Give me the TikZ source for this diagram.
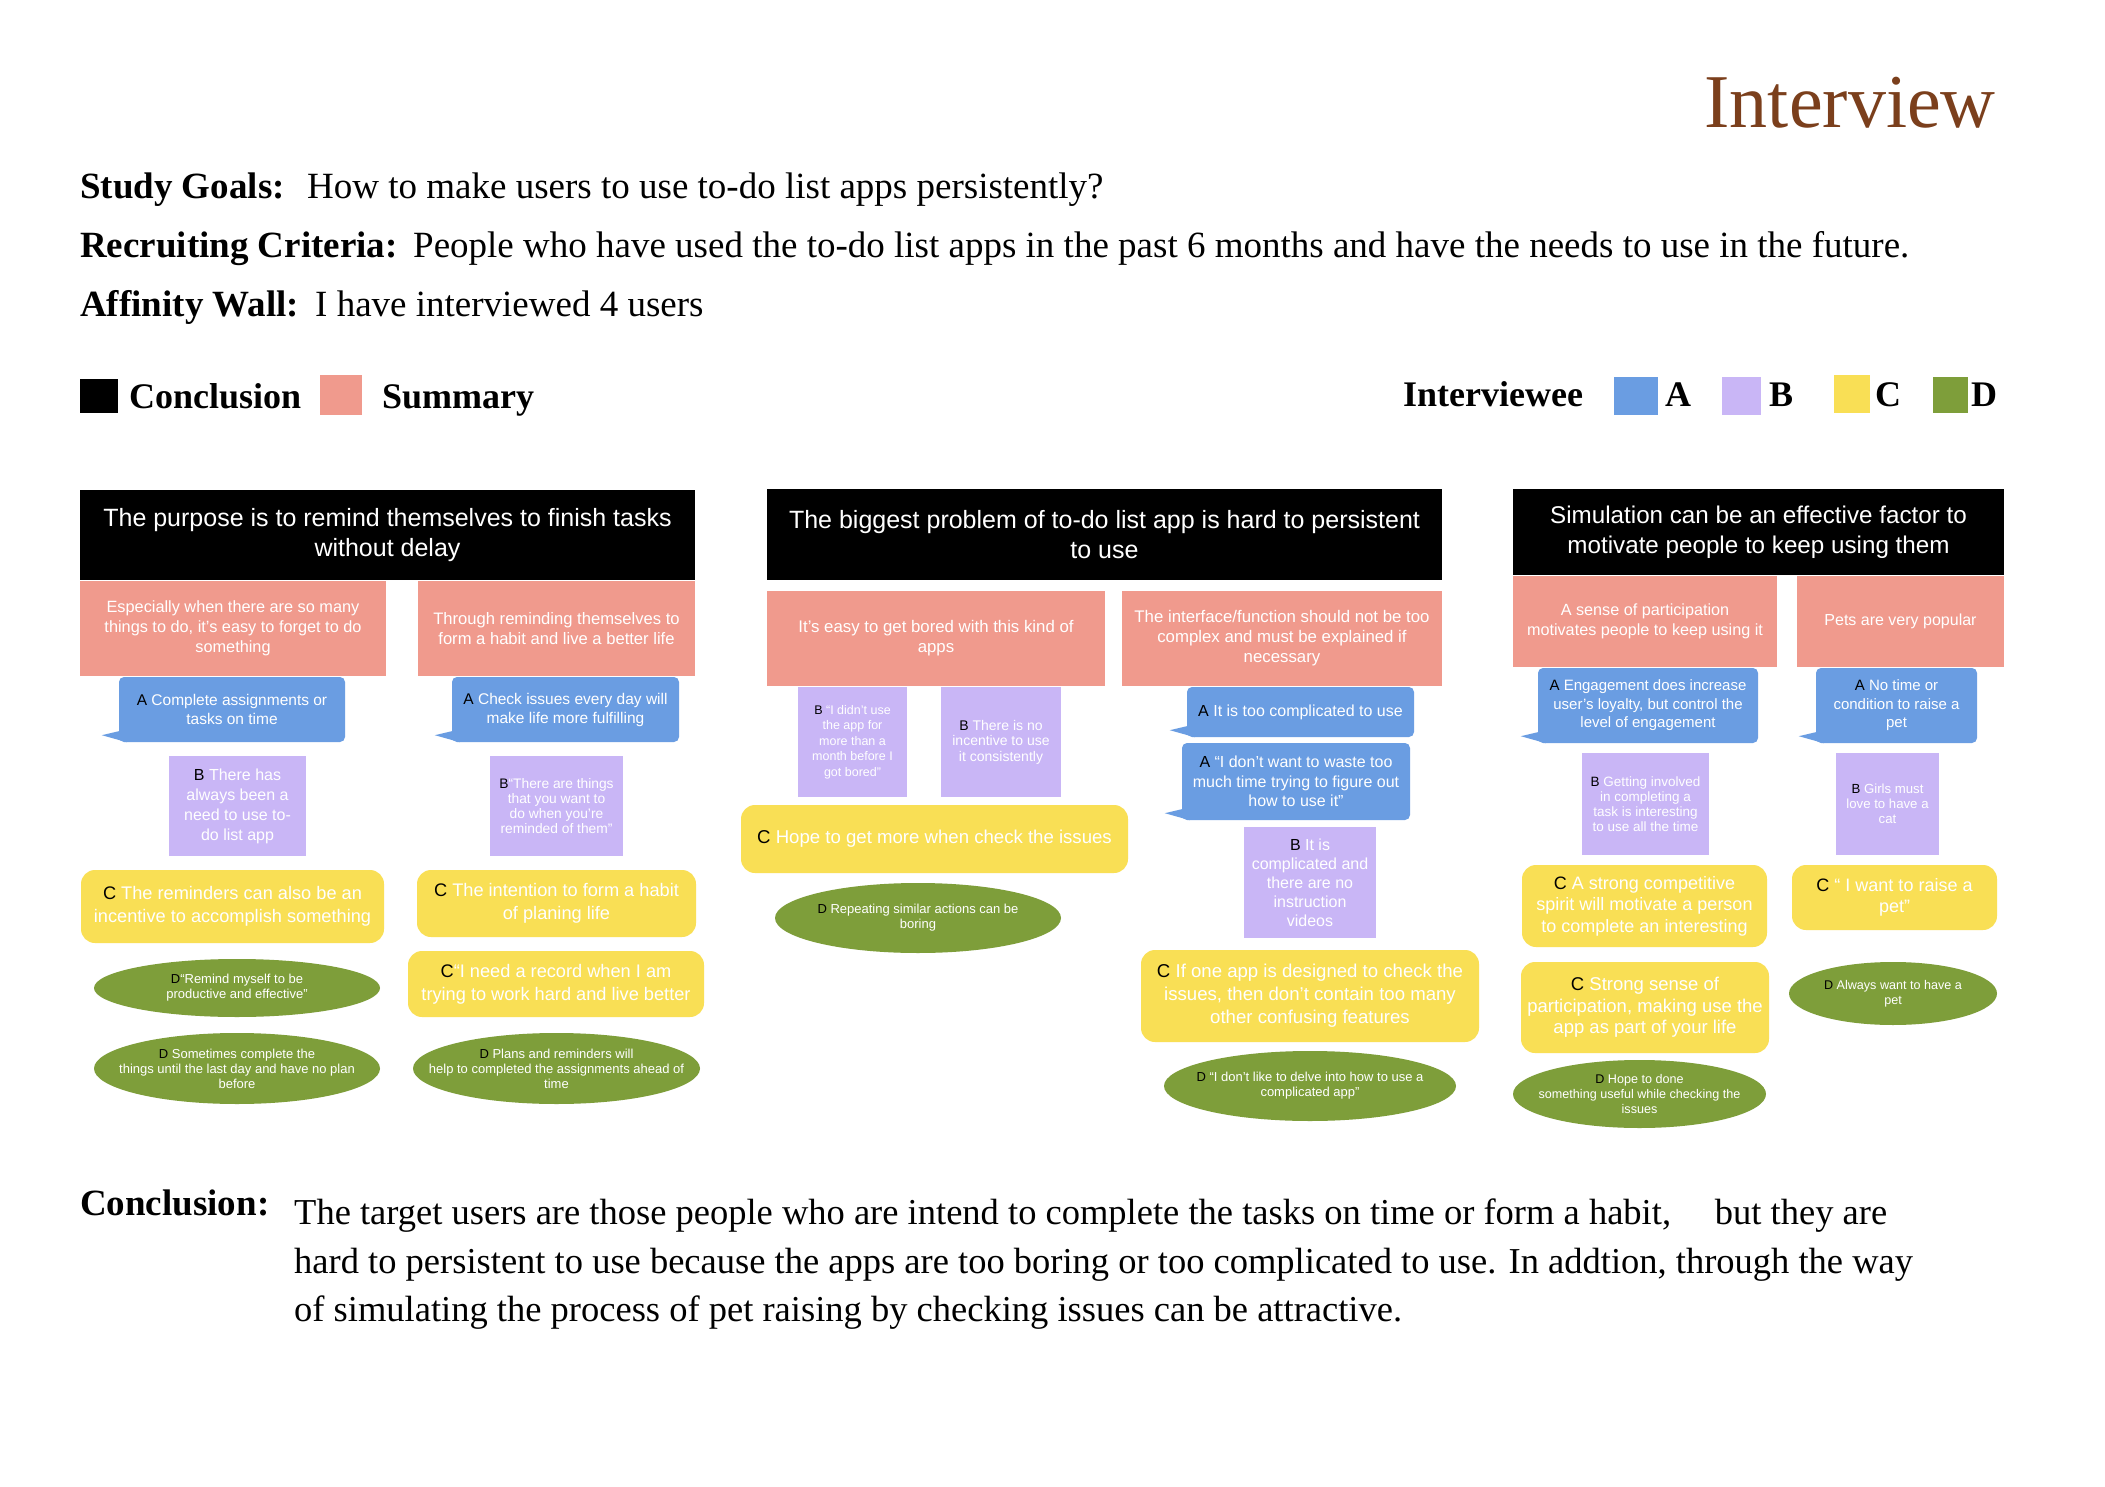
\documentclass[tikz,border=0pt]{standalone}
\usepackage{fontspec}
\setmainfont{Liberation Serif}
\setsansfont{Liberation Sans}
\usetikzlibrary{shapes.geometric}
\definecolor{ablue}{HTML}{6A9DE2}
\definecolor{blav}{HTML}{C9B6F6}
\definecolor{cyel}{HTML}{F9DF55}
\definecolor{dgrn}{HTML}{7E9E3A}
\definecolor{salm}{HTML}{F09A8D}
\definecolor{titlebrown}{HTML}{7B3F1C}
\newcommand\lbl[1]{\textcolor{black}{#1}}
\newcommand\card[6]{\node[#1, minimum width={(#5-#3)*1pt}, minimum height={(#6-#4)*1pt}] (#2) at ({(#3+#5)/2},{(#4+#6)/2})}
\newcommand\dcard[6]{\fill[dgrn] ({(#3+#5)/2},{(#4+#6)/2}) ellipse [x radius={(#5-#3)/2*1pt}, y radius={(#6-#4)/2*1pt}];
  \node[#1] (#2) at ({(#3+#5)/2},{(#4+#6)/2})}
\newcommand\tail[1]{\fill[ablue] ([yshift=11pt]#1.south west) -- ([xshift=-17pt,yshift=7pt]#1.south west) -- ([xshift=8pt]#1.south west) -- cycle;}
\tikzset{
  base/.style={inner sep=0pt, align=center, text=white},
  hdr/.style={base, fill=black},
  summ/.style={base, fill=salm},
  abox/.style={base, fill=ablue, rounded corners=5pt},
  bbox/.style={base, fill=blav},
  cbox/.style={base, fill=cyel, rounded corners=14pt},
  dbox/.style={base},
  fs/.style 2 args={font=\sffamily\fontsize{#1}{#2}\selectfont},
  toplbl/.style={anchor=base west, inner sep=0pt, font=\bfseries\fontsize{36}{40}\selectfont},
  toplblb/.style={anchor=base west, inner sep=0pt, font=\bfseries\fontsize{37}{40}\selectfont},
  toptxt/.style={anchor=base west, inner sep=0pt, font=\fontsize{37}{40}\selectfont},
  bottxt/.style={anchor=base west, inner sep=0pt, font=\fontsize{36.5}{40}\selectfont},
}
\begin{document}
\begin{tikzpicture}[x=1pt,y=-1pt]
\path[use as bounding box, fill=white] (0,0) rectangle (2105,1487);

% title and intro
\node[anchor=base east, inner sep=0pt, text=titlebrown, font=\fontsize{76}{80}\selectfont] (title) at (1996,128) {Interview};
\node[toplblb] (sgl) at (80,199) {Study Goals:};
\node[toptxt] (sgt) at (307,199) {How to make users to use to-do list apps persistently?};
\node[toplblb] (rcl) at (80,258) {Recruiting Criteria:};
\node[toptxt] (rct) at (413,258) {People who have used the to-do list apps in the past 6 months and have the needs to use in the future.};
\node[toplblb] (afl) at (80,317) {Affinity Wall:};
\node[toptxt] (aft) at (315,317) {I have interviewed 4 users};

% legend
\fill[black] (80,379) rectangle (118,413);
\node[toplbl] (lgc) at (129,409) {Conclusion};
\fill[salm] (320,375) rectangle (362,415);
\node[toplbl] (lgs) at (382,409) {Summary};
\node[toplbl] (lgi) at (1403,407) {Interviewee};
\fill[ablue] (1614,377) rectangle (1658,415);
\node[toplbl] (lga) at (1665,407) {A};
\fill[blav] (1722,377) rectangle (1761,415);
\node[toplbl] (lgb) at (1769,407) {B};
\fill[cyel] (1834,375) rectangle (1870,413);
\node[toplbl] (lgcc) at (1875,407) {C};
\fill[dgrn] (1933,377) rectangle (1968,413);
\node[toplbl] (lgd) at (1971,407) {D};

% ---------- column 1 ----------
\card{hdr,fs={25}{30}}{H1}{80}{490}{695}{580} {The purpose is to remind themselves to finish tasks\\without delay};
\card{summ,fs={16.3}{20}}{S1a}{80}{581}{386}{676} {Especially when there are so many\\things to do, it's easy to forget to do\\something};
\card{summ,fs={16.6}{20}}{S1b}{418}{581}{695}{676} {Through reminding themselves to\\form a habit and live a better life};
\card{abox,fs={15.5}{19}}{A1a}{119}{677}{345}{742} {\lbl{A} Complete assignments or\\tasks on time};
\tail{A1a}
\card{abox,fs={15.5}{19}}{A1b}{452}{677}{679}{742} {\lbl{A} Check issues every day will\\make life more fulfilling};
\tail{A1b}
\card{bbox,fs={16}{20}}{B1a}{169}{756}{306}{856} {\lbl{B} There has\\always been a\\need to use to-\\do list app};
\card{bbox,fs={13.8}{15.2}}{B1b}{490}{756}{623}{856} {\lbl{B}“There are things\\that you want to\\do when you're\\reminded of them”};
\card{cbox,fs={18.2}{23}}{C1a}{81}{870}{384}{943} {\lbl{C} The reminders can also be an\\incentive to accomplish something};
\card{cbox,fs={18.2}{23}}{C1b}{417}{870}{696}{937} {\lbl{C} The intention to form a habit\\of planing life};
\card{cbox,fs={18.2}{23}}{C1c}{408}{951}{704}{1017} {\lbl{C}“I need a record when I am\\trying to work hard and live better};
\dcard{dbox,fs={13}{15}}{D1a}{94}{959}{380}{1017} {\lbl{D}“Remind myself to be\\productive and effective”};
\dcard{dbox,fs={13}{15}}{D1b}{94}{1033}{380}{1104} {\lbl{D} Sometimes complete the\\things until the last day and have no plan\\before};
\dcard{dbox,fs={13}{15}}{D1c}{413}{1033}{700}{1104} {\lbl{D} Plans and reminders will\\help to completed the assignments ahead of\\time};

% ---------- column 2 ----------
\card{hdr,fs={25}{30}}{H2}{767}{489}{1442}{580} {The biggest problem of to-do list app is hard to persistent\\to use};
\card{summ,fs={16.8}{20}}{S2a}{767}{591}{1105}{686} {It's easy to get bored with this kind of\\apps};
\card{summ,fs={16.8}{20}}{S2b}{1122}{591}{1442}{686} {The interface/function should not be too\\complex and must be explained if\\necessary};
\card{bbox,fs={12.5}{15.4}}{B2a}{798}{687}{907}{797} {\lbl{B} “I didn't use\\the app for\\more than a\\month before I\\got bored”};
\card{bbox,fs={14}{15.5}}{B2b}{941}{687}{1061}{797} {\lbl{B} There is no\\incentive to use\\it consistently};
\card{cbox,fs={18.6}{23}}{C2a}{741}{805}{1128}{873} {\lbl{C} Hope to get more when check the issues};
\dcard{dbox,fs={13}{15}}{D2a}{775}{883}{1061}{953} {\lbl{D} Repeating similar actions can be\\boring};
\card{abox,fs={16}{19.5}}{A2a}{1187}{687}{1414}{737} {\lbl{A} It is too complicated to use};
\tail{A2a}
\card{abox,fs={16}{19.5}}{A2b}{1182}{743}{1410}{820} {\lbl{A} “I don't want to waste too\\much time trying to figure out\\how to use it”};
\tail{A2b}
\card{bbox,fs={16}{19}}{B2c}{1244}{827}{1376}{938} {\lbl{B} It is\\complicated and\\there are no\\instruction\\videos};
\card{cbox,fs={18.6}{23}}{C2b}{1141}{950}{1479}{1042} {\lbl{C} If one app is designed to check the\\issues, then don't contain too many\\other confusing features};
\dcard{dbox,fs={13}{15}}{D2b}{1164}{1051}{1456}{1121} {\lbl{D} “I don't like to delve into how to use a\\complicated app”};

% ---------- column 3 ----------
\card{hdr,fs={24.2}{30}}{H3}{1513}{489}{2004}{575} {Simulation can be an effective factor to\\motivate people to keep using them};
\card{summ,fs={16.2}{19.5}}{S3a}{1513}{576}{1777}{667} {A sense of participation\\motivates people to keep using it};
\card{summ,fs={16}{19.5}}{S3b}{1797}{576}{2004}{667} {Pets are very popular};
\card{abox,fs={15}{18.5}}{A3a}{1538}{668}{1758}{743} {\lbl{A} Engagement does increase\\user’s loyalty, but control the\\level of engagement};
\tail{A3a}
\card{abox,fs={15}{18.5}}{A3b}{1816}{668}{1977}{743} {\lbl{A} No time or\\condition to raise a\\pet};
\tail{A3b}
\card{bbox,fs={13.5}{15}}{B3a}{1582}{753}{1709}{855} {\lbl{B} Getting involved\\in completing a\\task is interesting\\to use all the time};
\card{bbox,fs={13.2}{15}}{B3b}{1836}{753}{1939}{855} {\lbl{B} Girls must\\love to have a\\cat};
\card{cbox,fs={18}{21.5}}{C3a}{1522}{865}{1767}{947} {\lbl{C} A strong competitive\\spirit will motivate a person\\to complete an interesting};
\card{cbox,fs={18}{21.5}}{C3b}{1792}{865}{1997}{930} {\lbl{C} “ I want to raise a\\pet”};
\card{cbox,fs={18.5}{21.5}}{C3c}{1521}{962}{1769}{1053} {\lbl{C} Strong sense of\\participation, making use the\\app as part of your life};
\dcard{dbox,fs={12.6}{14.8}}{D3a}{1513}{1060}{1766}{1128} {\lbl{D} Hope to done\\something useful while checking the\\issues};
\dcard{dbox,fs={12.6}{14.8}}{D3b}{1789}{962}{1997}{1025} {\lbl{D} Always want to have a\\pet};

% ---------- conclusion ----------
\node[toplblb] (cll) at (80,1215) {Conclusion:};
\node[bottxt] (cl1) at (294,1224) {The target users are those people who are intend to complete the tasks on time or form a habit,\hspace{1.2em}but they are};
\node[bottxt] (cl2) at (294,1273) {hard to persistent to use because the apps are too boring or too complicated to use. In addtion, through the way};
\node[bottxt] (cl3) at (294,1321) {of simulating the process of pet raising by checking issues can be attractive.};
\end{tikzpicture}
\end{document}
